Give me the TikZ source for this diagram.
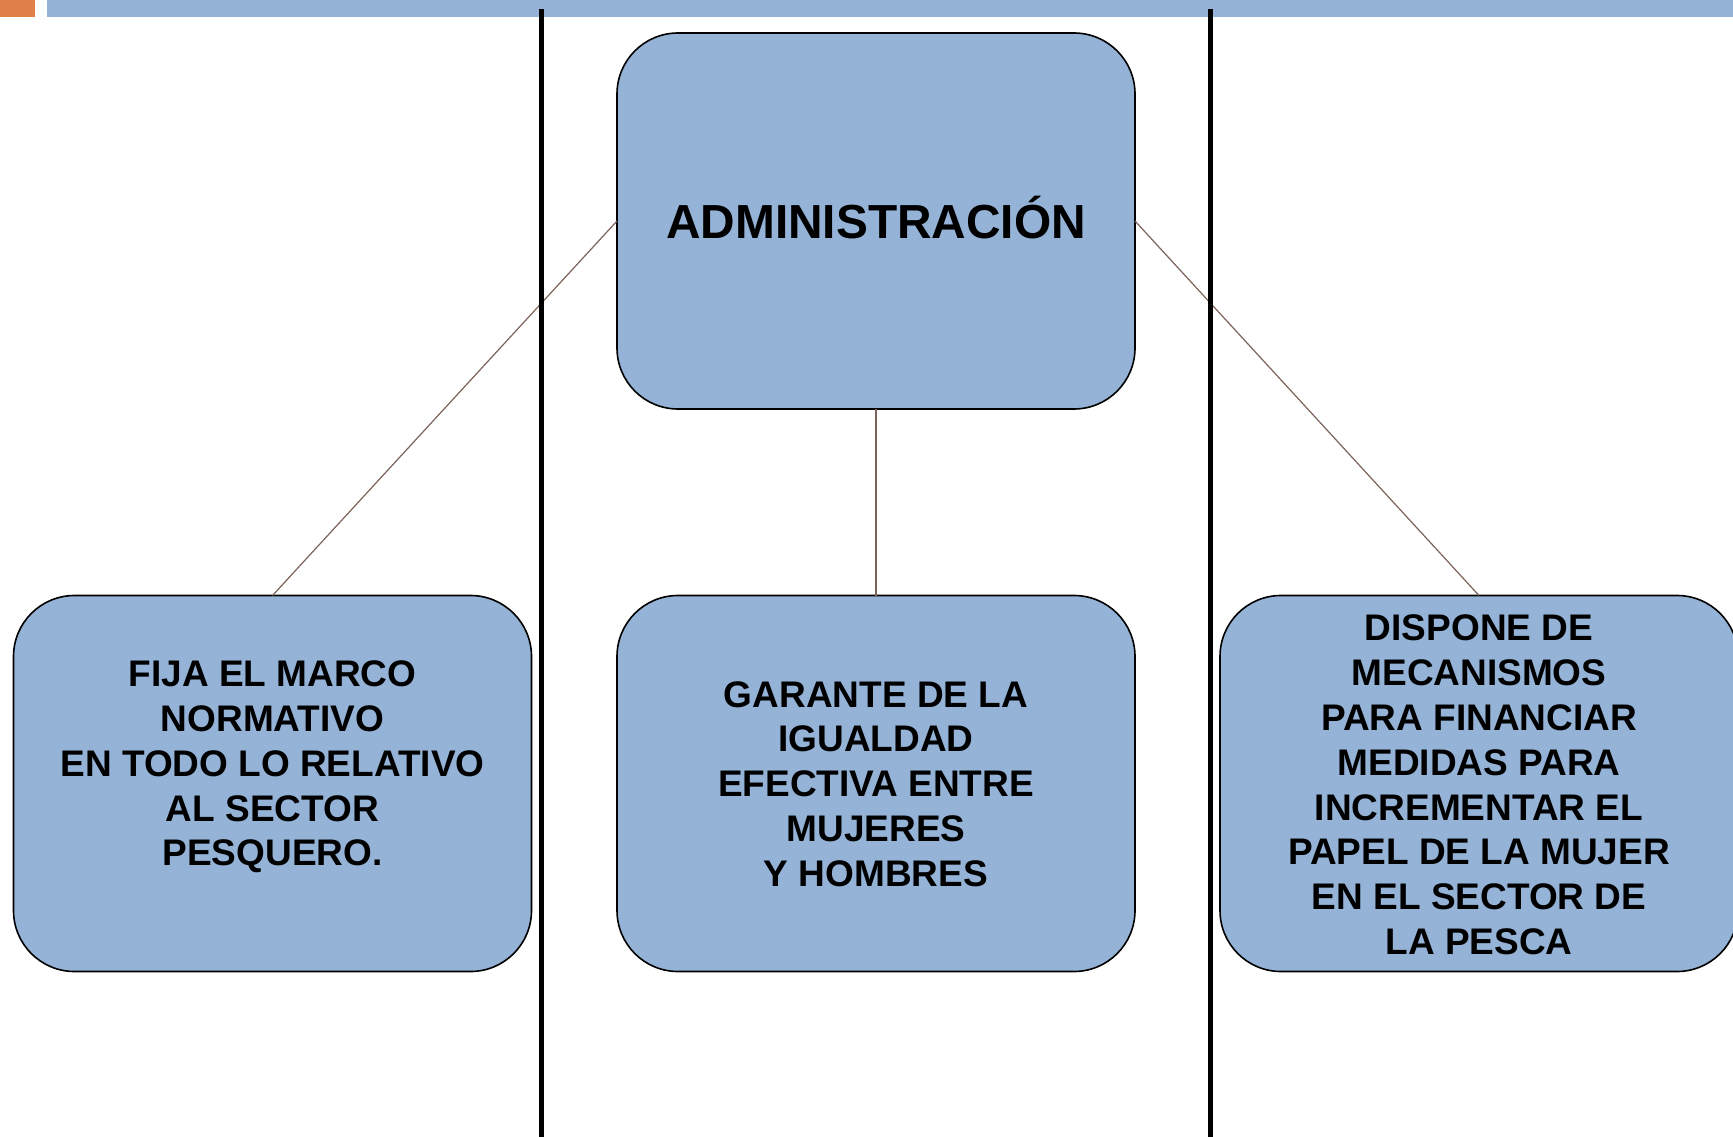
\documentclass[tikz,border=0pt]{standalone}
\usepackage{fontspec}
\setmainfont{Liberation Sans}
\definecolor{boxblue}{RGB}{149,179,215}
\definecolor{barorange}{RGB}{224,128,72}
\definecolor{linkbrown}{RGB}{122,100,90}
\tikzset{
  box/.style={draw=black, line width=1.6pt, fill=boxblue, rounded corners=61pt,
    minimum width=518pt, minimum height=376pt, inner sep=0pt, outer sep=0pt},
  bigtxt/.style={font=\fontsize{37}{44.8}\selectfont\bfseries, align=center, inner sep=0pt},
  link/.style={draw=linkbrown, line width=1.2pt},
  divider/.style={draw=black, line width=5pt}
}
\begin{document}
\begin{tikzpicture}[x=1pt,y=-1pt]
\useasboundingbox (0,0) rectangle (1733,1137);
\fill[white] (0,0) rectangle (1733,1137);
% top decoration
\fill[barorange] (0,0) rectangle (35,17);
\fill[boxblue] (47,0) rectangle (1733,17);
% boxes
\node[box] (adm) at (876,221) {};
\node[box] (l) at (272.5,783.5) {};
\node[box] (c) at (876,783.5) {};
\node[box] (r) at (1479,783.5) {};
% connectors
\draw[link] (adm.west) -- (l.north);
\draw[link] (adm.south) -- (c.north);
\draw[link] (adm.east) -- (r.north);
% dividers
\coordinate (d1t) at (541.5,9);
\coordinate (d1b) at (541.5,1137);
\coordinate (d2t) at (1210,9);
\coordinate (d2b) at (1210,1137);
\draw[divider] (d1t) -- (d1b);
\draw[divider] (d2t) -- (d2b);
% texts
\node[font=\fontsize{47.8}{57}\selectfont\bfseries, inner sep=0pt] (admt) at (876,218) {ADMINISTRACIÓN};
\node[bigtxt] (lt) at (272.5,767) {FIJA EL MARCO\\NORMATIVO\\EN TODO LO RELATIVO\\AL SECTOR\\PESQUERO.};
\node[bigtxt] (ct) at (876,784) {GARANTE DE LA\\IGUALDAD\\EFECTIVA ENTRE\\MUJERES\\Y HOMBRES};
\node[bigtxt] (rt) at (1479,785) {DISPONE DE\\MECANISMOS\\PARA FINANCIAR\\MEDIDAS PARA\\INCREMENTAR EL\\PAPEL DE LA MUJER\\EN EL SECTOR DE\\LA PESCA};
\end{tikzpicture}
\end{document}
